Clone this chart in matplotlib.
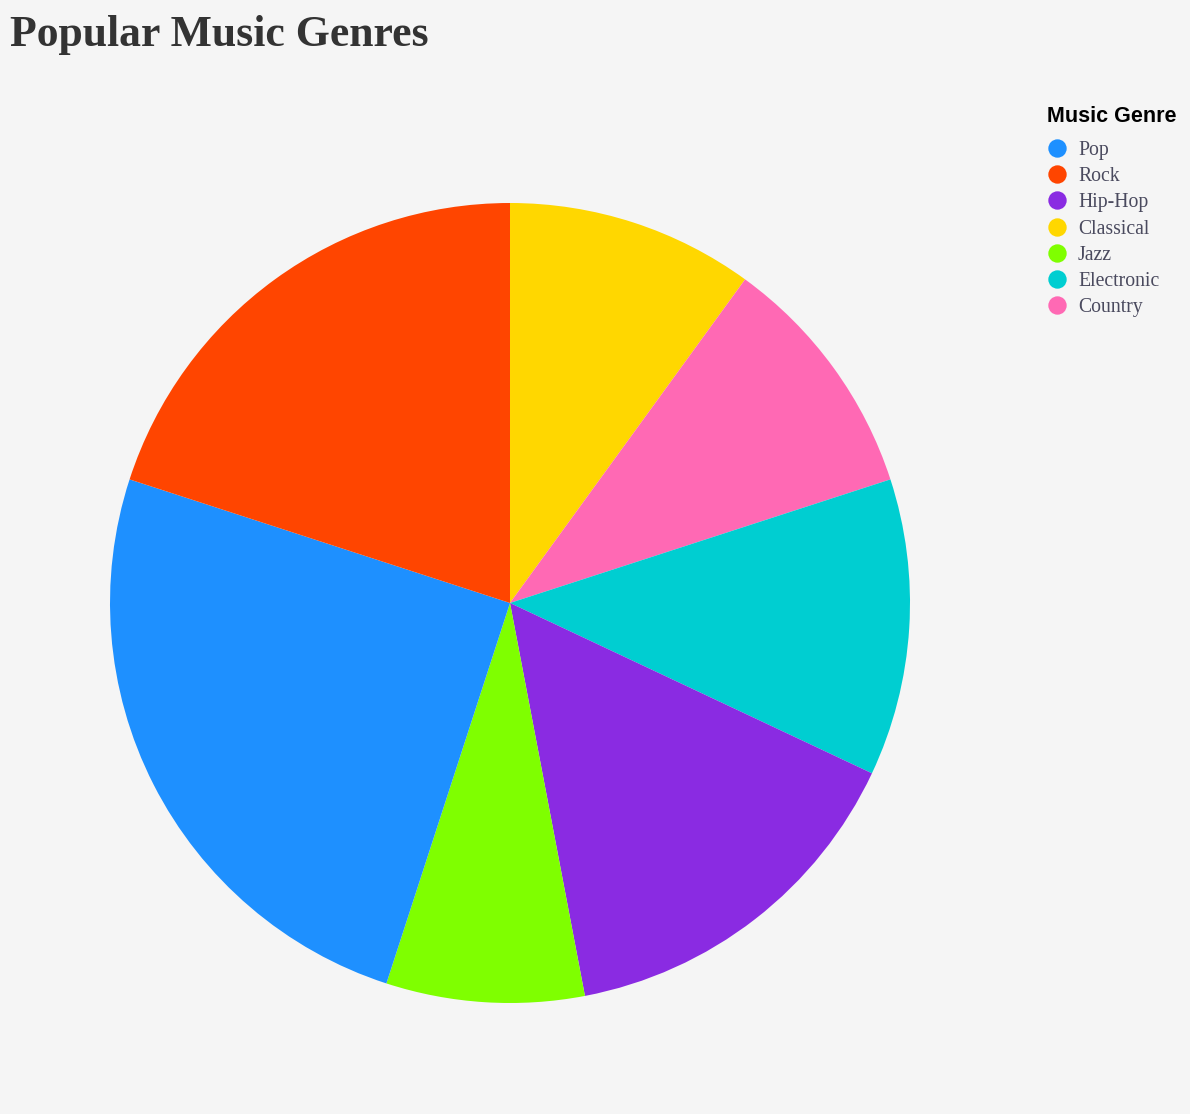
import matplotlib
matplotlib.use("Agg")
import matplotlib.pyplot as plt

# data (pie drawn in alphabetical order, legend in listing order)
genres = ["Pop", "Rock", "Hip-Hop", "Classical", "Jazz", "Electronic", "Country"]
shares = [25, 20, 15, 10, 8, 12, 10]
colors = ["#1E90FF", "#FF4500", "#8A2BE2", "#FFD700", "#7FFF00", "#00CED1", "#FF69B4"]

W, H = 1190, 1114
BG = "#f5f5f5"

fig = plt.figure(figsize=(W / 100, H / 100), dpi=100, facecolor=BG)

# pie: center (510, 603) px, radius 400 px
cx, cy, r = 510, 603, 400
ax = fig.add_axes([(cx - r) / W, (H - cy - r) / H, 2 * r / W, 2 * r / H])
ax.set_facecolor(BG)

order = sorted(range(len(genres)), key=lambda i: genres[i])
ax.pie([shares[i] for i in order], colors=[colors[i] for i in order],
       startangle=90, counterclock=False, radius=1.0,
       wedgeprops=dict(linewidth=0))
ax.set_xlim(-1, 1)
ax.set_ylim(-1, 1)
ax.axis("off")

# overlay in pixel coords (y down) for title and legend
ov = fig.add_axes([0, 0, 1, 1], facecolor="none")
ov.set_xlim(0, W)
ov.set_ylim(H, 0)
ov.axis("off")

ov.text(10, 46, "Popular Music Genres", ha="left", va="baseline",
        fontsize=31.5, fontweight="bold", family="Liberation Serif", color="#333333")

ov.text(1047, 116, "Music Genre", ha="left", va="center",
        fontsize=15.5, fontweight="bold", family="Liberation Sans", color="#000000")
for k, (g, c) in enumerate(zip(genres, colors)):
    y = 148 + 26.2 * k
    ov.scatter([1057], [y], s=175, color=c, linewidths=0)
    ov.text(1078, y, g, ha="left", va="center_baseline",
            fontsize=14.2, family="Liberation Serif", color="#4a4a5e")

fig.savefig("out.png", dpi=100, facecolor=BG)
